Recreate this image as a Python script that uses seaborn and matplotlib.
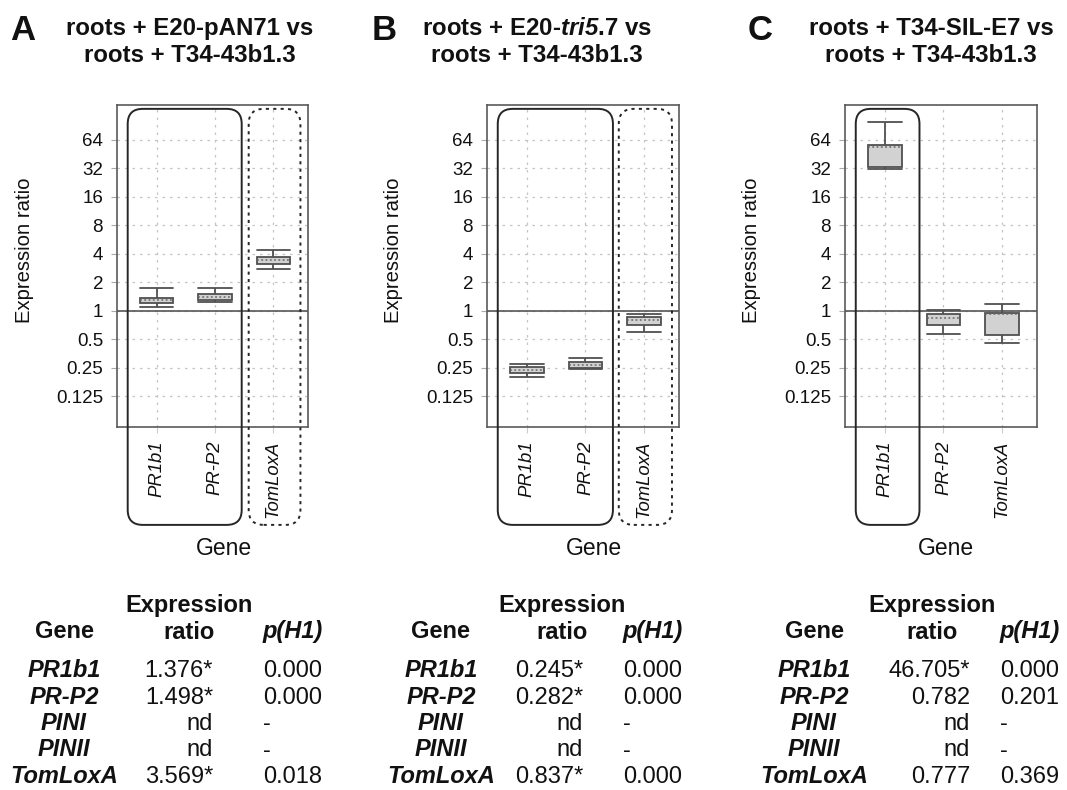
import numpy as np
import pandas as pd
import matplotlib
matplotlib.use("Agg")
import matplotlib.pyplot as plt
import matplotlib.transforms as mtransforms
from matplotlib.patches import FancyBboxPatch
import seaborn as sns

sns.set_style("whitegrid")
plt.rcParams["font.family"] = ["Liberation Sans", "DejaVu Sans"]
plt.rcParams["mathtext.fontset"] = "custom"
plt.rcParams["mathtext.rm"] = "Liberation Sans"
plt.rcParams["mathtext.it"] = "Liberation Sans:italic"
plt.rcParams["mathtext.bf"] = "Liberation Sans:bold"
plt.rcParams["mathtext.bfit"] = "Liberation Sans:italic:bold"
plt.rcParams["text.color"] = "#111111"
plt.rcParams["axes.labelcolor"] = "#111111"

# ---------------------------------------------------------------- data
genes = ["PR1b1", "PR-P2", "TomLoxA"]

# box-plot summaries per gene: lower whisker, Q1, median, Q3, upper whisker
a_low = [1.10, 1.25, 2.79]
a_q1 = [1.22, 1.31, 3.15]
a_med = [1.31, 1.40, 3.46]
a_q3 = [1.37, 1.51, 3.73]
a_high = [1.75, 1.75, 4.40]

b_low = [0.200, 0.243, 0.60]
b_q1 = [0.220, 0.250, 0.71]
b_med = [0.240, 0.270, 0.80]
b_q3 = [0.257, 0.290, 0.87]
b_high = [0.274, 0.317, 0.93]

c_low = [31.0, 0.57, 0.46]
c_q1 = [33.0, 0.71, 0.56]
c_med = [54.0, 0.83, 0.93]
c_q3 = [56.0, 0.93, 0.95]
c_high = [99.0, 1.02, 1.19]

ytick_values = [0.125, 0.25, 0.5, 1, 2, 4, 8, 16, 32, 64]
ytick_labels = ["0.125", "0.25", "0.5", "1", "2", "4", "8", "16", "32", "64"]

titles = [
    ("roots + E20-pAN71 vs", "roots + T34-43b1.3"),
    (r"roots + E20-$\mathbfit{tri5}$.7 vs", "roots + T34-43b1.3"),
    ("roots + T34-SIL-E7 vs", "roots + T34-43b1.3"),
]
panel_letters = ["A", "B", "C"]

table_genes = ["PR1b1", "PR-P2", "PINI", "PINII", "TomLoxA"]
a_ratio = ["1.376*", "1.498*", "nd", "nd", "3.569*"]
a_p = ["0.000", "0.000", "-", "-", "0.018"]
b_ratio = ["0.245*", "0.282*", "nd", "nd", "0.837*"]
b_p = ["0.000", "0.000", "-", "-", "0.000"]
c_ratio = ["46.705*", "0.782", "nd", "nd", "0.777"]
c_p = ["0.000", "0.201", "-", "-", "0.369"]

# ---------------------------------------------------------------- layout
W, H = 1067, 790
fig = plt.figure(figsize=(W / 100, H / 100), dpi=100)
fig.patch.set_facecolor("white")


def fx(x):
    return x / W


def fy(y):
    return 1 - y / H


EDGE = "#505050"
BOX_FACE = "#d2d2d2"
INK = "#111111"

axes_px = [(117, 308), (487, 679), (845, 1037)]
ax_top, ax_bot = 105, 427
xlabel_x = [0.56, 0.557, 0.526]
title_cx = [190, 537, 931]
letter_x = [10, 372, 748]

# group outlines: (x-start, x-end in category units, line style)
groups = [
    [(-0.5, 1.46, "-"), (1.58, 2.47, (0, (1.6, 2.2)))],
    [(-0.5, 1.47, "-"), (1.57, 2.48, (0, (1.6, 2.2)))],
    [(-0.5, 0.59, "-")],
]

stats = [
    (a_low, a_q1, a_med, a_q3, a_high),
    (b_low, b_q1, b_med, b_q3, b_high),
    (c_low, c_q1, c_med, c_q3, c_high),
]


def summary_frame(low, q1, med, q3, high):
    rows = []
    for g, vals in zip(genes, zip(low, q1, med, q3, high)):
        for v in vals:
            rows.append((g, v))
    return pd.DataFrame(rows, columns=["Gene", "ratio"])


for i, ((l, r), st) in enumerate(zip(axes_px, stats)):
    ax = fig.add_axes([fx(l), fy(ax_bot), (r - l) / W, (ax_bot - ax_top) / H])
    df = summary_frame(*st)
    sns.boxplot(
        data=df, x="Gene", y="ratio", order=genes, whis=np.inf, width=0.57,
        log_scale=2, color=BOX_FACE, linecolor=EDGE, linewidth=1.3,
        saturation=1, capwidths=0.57,
        medianprops=dict(linestyle=(0, (1.2, 1.6)), linewidth=1.1, color="#666666"),
        ax=ax,
    )
    ax.set_xlim(-0.684, 2.6)
    ax.set_ylim(0.0595, 148)
    ax.set_yticks(ytick_values)
    ax.set_yticklabels(ytick_labels)
    ax.yaxis.set_minor_locator(matplotlib.ticker.NullLocator())
    ax.set_xticks(range(len(genes)))
    ax.set_xticklabels(genes, rotation=90, fontstyle="italic", fontsize=13.3)
    ax.tick_params(axis="y", labelsize=13.5, length=4, color="#aaaaaa",
                   labelcolor=INK, pad=6, left=True)
    ax.tick_params(axis="x", length=4, color="#cccccc", labelcolor=INK,
                   pad=6, bottom=True)
    ax.grid(True, color="#c4c4c4", linestyle=(0, (2, 4)), linewidth=0.9)
    ax.set_axisbelow(True)
    ax.axhline(1, color="#555555", lw=1.2, zorder=1.5)
    for sp in ax.spines.values():
        sp.set_visible(True)
        sp.set_color("#5a5a5a")
        sp.set_linewidth(1.2)
    ax.set_xlabel("Gene", fontsize=16.5)
    ax.set_ylabel("Expression ratio", fontsize=14.6)
    ax.xaxis.set_label_coords(xlabel_x[i], -0.342)
    ax.yaxis.set_label_coords(-0.435, 0.55)

    # rounded outlines around gene groups, extending over the tick labels
    trans = mtransforms.blended_transform_factory(ax.transData, ax.transAxes)
    for x0, x1, ls in groups[i]:
        p0 = trans.transform((x0, -0.304))
        p1 = trans.transform((x1, 0.988))
        patch = FancyBboxPatch(
            (p0[0], p0[1]), p1[0] - p0[0], p1[1] - p0[1],
            boxstyle="round,pad=0,rounding_size=15",
            transform=mtransforms.IdentityTransform(),
            fill=False, ec="#262626", lw=1.4, ls=ls, zorder=5,
        )
        fig.add_artist(patch)

    # panel letter and two-line title
    fig.text(fx(letter_x[i]), fy(40), panel_letters[i], fontsize=25,
             fontweight="bold", va="baseline", ha="left")
    fig.text(fx(title_cx[i]), fy(35), titles[i][0], fontsize=17.3,
             fontweight="bold", ha="center", va="baseline")
    fig.text(fx(title_cx[i]), fy(62), titles[i][1], fontsize=17.3,
             fontweight="bold", ha="center", va="baseline")

# ---------------------------------------------------------------- tables
table_cols = [
    (64, 189, 213, 263, a_ratio, a_p),
    (441, 562, 583, 623, b_ratio, b_p),
    (814, 932, 970, 1000, c_ratio, c_p),
]
row_y = [677, 703.5, 730, 756.5, 783]
TFS = 17

for gx, hx, rx, px_, ratios, ps in table_cols:
    fig.text(fx(hx), fy(612), "Expression", fontsize=TFS, fontweight="bold",
             ha="center", va="baseline")
    fig.text(fx(gx), fy(638), "Gene", fontsize=TFS, fontweight="bold",
             ha="center", va="baseline")
    fig.text(fx(hx), fy(639), "ratio", fontsize=TFS, fontweight="bold",
             ha="center", va="baseline")
    fig.text(fx(px_), fy(638), "p(H1)", fontsize=TFS, fontweight="bold",
             fontstyle="italic", ha="left", va="baseline")
    for y, g, rv, pv in zip(row_y, table_genes, ratios, ps):
        fig.text(fx(gx), fy(y), g, fontsize=TFS, fontweight="bold",
                 fontstyle="italic", ha="center", va="baseline")
        fig.text(fx(rx), fy(y), rv, fontsize=TFS, ha="right", va="baseline")
        fig.text(fx(px_), fy(y), pv, fontsize=TFS, ha="left", va="baseline")

fig.savefig("out.png", dpi=100, facecolor="white")
